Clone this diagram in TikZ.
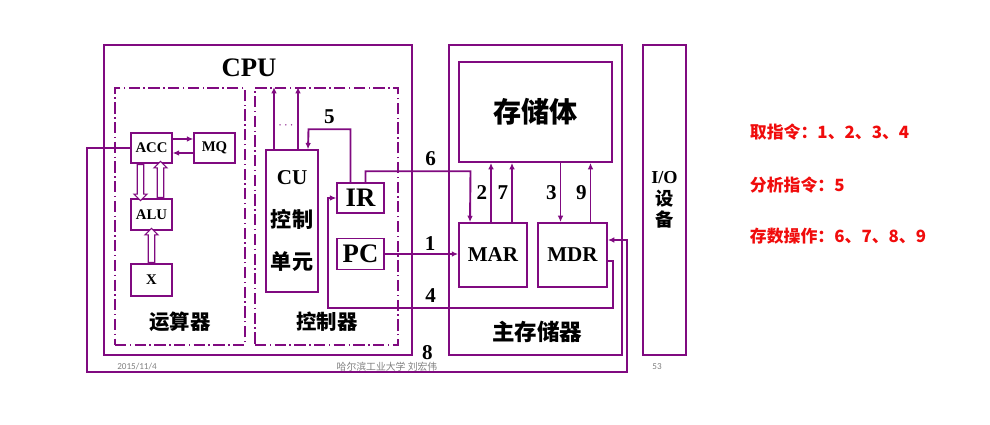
\documentclass[tikz,border=0pt]{standalone}
\usepackage{fontspec}
\setmainfont{Liberation Serif}
\newfontfamily\cjk{Noto Sans CJK SC}
\newfontfamily\footfont{Carlito}
\usetikzlibrary{arrows.meta,calc,positioning,shapes.arrows}
\definecolor{vio}{RGB}{128,10,128}
\definecolor{tipred}{RGB}{240,12,12}

\begin{document}
\begin{tikzpicture}[
    x=0.025cm, y=-0.025cm,
    outer/.style={draw=vio, line width=1.8pt, inner sep=0pt},
    part/.style={draw=vio, line width=1.2pt, dash pattern=on 8pt off 2.5pt on 1pt off 2.5pt, inner sep=0pt},
    box/.style={draw=vio, line width=1pt, fill=white, inner sep=0pt, align=center},
    arrow/.style={draw=vio, line width=1.35pt, -{Latex[length=4.5pt,width=4pt]}},
    hollow/.style={single arrow, draw=vio, line width=0.8pt, fill=white, inner sep=1.9pt,
                   single arrow head extend=2.3pt, single arrow head indent=0pt},
    num/.style={font=\bfseries\fontsize{15}{15}\selectfont, inner sep=2pt},
    title/.style={font=\cjk\bfseries\fontsize{14.5}{14.5}\selectfont},
    note/.style={anchor=west, text=tipred, font=\cjk\bfseries\fontsize{12}{12}\selectfont},
    foot/.style={text=gray, font=\fontsize{6.5}{6.5}\selectfont}
]
    \useasboundingbox (0,0) rectangle (990,425);

    \node[outer, minimum width=7.7cm, minimum height=7.75cm] (cpu) at (258,200) {};
    \node[font=\bfseries\fontsize{19}{19}\selectfont] (cputitle) at (249,68) {CPU};
    \node[part, minimum width=3.25cm, minimum height=6.425cm] (alupart) at (180,216.5) {};
    \node[part, minimum width=3.575cm, minimum height=6.425cm] (ctrlpart) at (326.5,216.5) {};

    \node[box, font=\bfseries\fontsize{10.5}{10.5}\selectfont, minimum width=1.025cm, minimum height=0.75cm] (acc) at (151.5,148) {ACC};
    \node[box, font=\bfseries\fontsize{10.5}{10.5}\selectfont, minimum width=1.025cm, minimum height=0.75cm] (mq) at (214.5,148) {MQ};
    \node[box, font=\bfseries\fontsize{10.5}{10.5}\selectfont, minimum width=1.025cm, minimum height=0.775cm] (alu) at (151.5,214.5) {ALU};
    \node[box, font=\bfseries\fontsize{10.5}{10.5}\selectfont, minimum width=1.025cm, minimum height=0.8cm] (x) at (151.5,280) {X};
    \node[title] (alulabel) at (180,322) {运算器};

    \node[box, font=\bfseries\fontsize{15}{30}\selectfont, minimum width=1.3cm, minimum height=3.55cm] (cu) at (292,221) {CU\\{\cjk 控制}\\{\cjk 单元}};
    \node[box, font=\bfseries\fontsize{19}{19}\selectfont, minimum width=1.175cm, minimum height=0.75cm] (ir) at (360.5,198) {IR};
    \node[box, font=\bfseries\fontsize{19}{19}\selectfont, minimum width=1.175cm, minimum height=0.775cm] (pc) at (360.5,254) {PC};
    \node[title] (ctrllabel) at (327,322) {控制器};
    \node[text=vio, font=\fontsize{9}{9}\selectfont] (dots) at (286,126) {$\cdots$};

    \node[outer, minimum width=4.325cm, minimum height=7.75cm] (mem) at (535.5,200) {};
    \node[box, font=\cjk\bfseries\fontsize{20}{20}\selectfont, line width=1.3pt, minimum width=3.825cm, minimum height=2.5cm] (body) at (535.5,112) {存储体};
    \node[box, font=\bfseries\fontsize{15}{15}\selectfont, line width=1.3pt, minimum width=1.7cm, minimum height=1.6cm] (mar) at (493,255) {MAR};
    \node[box, font=\bfseries\fontsize{15}{15}\selectfont, line width=1.3pt, minimum width=1.725cm, minimum height=1.6cm] (mdr) at (572.5,255) {MDR};
    \node[font=\cjk\bfseries\fontsize{16}{16}\selectfont] (memlabel) at (537,332) {主存储器};

    \node[outer, font=\bfseries\fontsize{13}{15.5}\selectfont, minimum width=1.075cm, minimum height=7.75cm, align=center] (io) at (664.5,200) {I/O\\{\cjk 设}\\{\cjk 备}};

    \draw[arrow] ($(acc.east)+(0,-9)$) -- ($(mq.west)+(0,-9)$);
    \draw[arrow] ($(mq.west)+(0,5)$) -- ($(acc.east)+(0,5)$);
    \node[hollow, shape border rotate=270, minimum height=0.9cm] (accalu) at ($(acc.south)!0.5!(alu.north)+(-11,0)$) {};
    \node[hollow, shape border rotate=90, minimum height=0.9cm] (aluacc) at ($(acc.south)!0.5!(alu.north)+(9,0)$) {};
    \node[hollow, shape border rotate=90, minimum height=0.85cm] (xalu) at ($(x.north)!0.5!(alu.south)$) {};

    \coordinate (cul) at ($(cu.north)+(-18,0)$);
    \coordinate (cur) at ($(cu.north)+(6,0)$);
    \draw[arrow] (cul) -- (cul |- ctrlpart.north);
    \draw[arrow] (cur) -- (cur |- ctrlpart.north);
    \draw[arrow] ($(ir.north)+(-10,0)$) -- ++(0,-53) -- node[num, above=1pt] {5} ++(-42,0) -- ($(cu.north)+(16,0)$);
    \draw[arrow] ($(ir.north)+(5,0)$) -- ++(0,-11) -- node[num, above=1pt, pos=0.62] {6} ++(105,0) -- ($(mar.north)+(-23,0)$);
    \draw[arrow] (pc.east) -- node[num, above, pos=0.62] {1} (pc.east -| mar.west);
    \draw[arrow] ($(mdr.east)+(0,6)$) -- ++(5,0) -- ++(0,47) -- node[num, above=1.5pt, pos=0.64] {4} ++(-285,0) |- (ir.west);
    \draw[arrow] (acc.west) -- ++(-43,0) -- ++(0,224) -- node[num, above=6pt, pos=0.63] {8} ++(540,0) |- ($(mdr.east)+(0,-15)$);

    \coordinate (m2) at ($(mar.north)+(-2,0)$);
    \coordinate (m7) at ($(mar.north)+(19,0)$);
    \coordinate (m3) at ($(mdr.north)+(-12,0)$);
    \coordinate (m9) at ($(mdr.north)+(18,0)$);
    \draw[arrow] (m2) -- node[num, left] {2} (m2 |- body.south);
    \draw[arrow] (m7) -- node[num, left] {7} (m7 |- body.south);
    \draw[arrow] (m3 |- body.south) -- node[num, left] {3} (m3);
    \draw[arrow] (m9) -- node[num, left] {9} (m9 |- body.south);

    \node[note] (fetch) at (745,132) {取指令：1、2、3、4};
    \node[note] (decode) at (745,185) {分析指令：5};
    \node[note] (store) at (745,236) {存数操作：6、7、8、9};

    \node[foot, font=\footfont\fontsize{6.5}{6.5}\selectfont] (date) at (137,367) {2015/11/4};
    \node[foot, font=\cjk\fontsize{7}{7}\selectfont] (school) at (387,367) {哈尔滨工业大学\ 刘宏伟};
    \node[foot, font=\footfont\fontsize{6.5}{6.5}\selectfont] (page) at (657,367) {53};
\end{tikzpicture}
\end{document}
